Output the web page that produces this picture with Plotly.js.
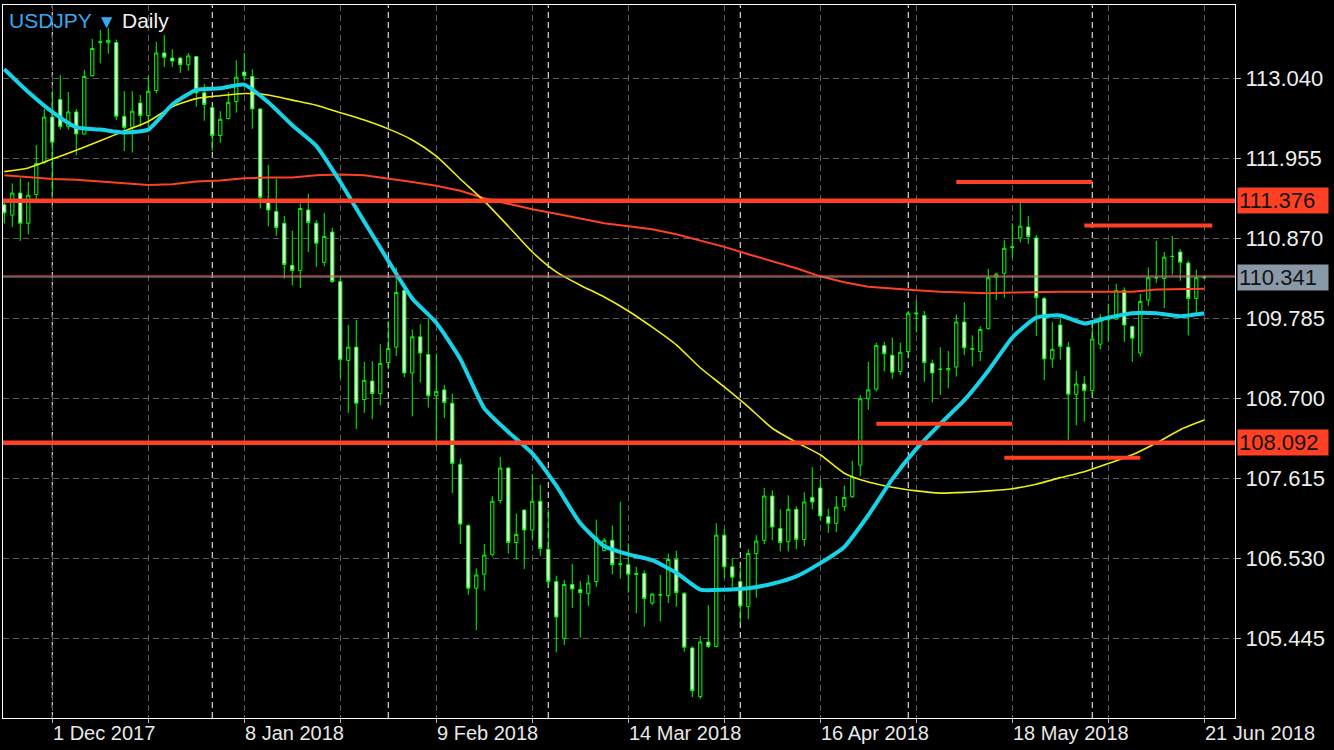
<!DOCTYPE html>
<html>
<head>
<meta charset="utf-8">
<script src="https://cdn.plot.ly/plotly-3.0.1.min.js"></script>
<style>html,body{margin:0;padding:0;background:#000;}#chart{width:1334px;height:750px;}</style>
</head>
<body>
<div id="chart"></div>
<script>
// ---- bars (daily, broker calendar) ----
const dates = [
'2017-11-23','2017-11-24','2017-11-27','2017-11-28','2017-11-29','2017-11-30',
'2017-12-01','2017-12-04','2017-12-05','2017-12-06','2017-12-07','2017-12-08',
'2017-12-11','2017-12-12','2017-12-13','2017-12-14','2017-12-15',
'2017-12-18','2017-12-19','2017-12-20','2017-12-21','2017-12-22',
'2017-12-26','2017-12-27','2017-12-28','2017-12-29',
'2018-01-02','2018-01-03','2018-01-04','2018-01-05',
'2018-01-08','2018-01-09','2018-01-10','2018-01-11','2018-01-12',
'2018-01-15','2018-01-16','2018-01-17','2018-01-18','2018-01-19',
'2018-01-22','2018-01-23','2018-01-24','2018-01-25','2018-01-26',
'2018-01-29','2018-01-30','2018-01-31',
'2018-02-01','2018-02-02',
'2018-02-05','2018-02-06','2018-02-07','2018-02-08','2018-02-09',
'2018-02-12','2018-02-13','2018-02-14','2018-02-15','2018-02-16',
'2018-02-19','2018-02-20','2018-02-21','2018-02-22','2018-02-23',
'2018-02-26','2018-02-27','2018-02-28',
'2018-03-01','2018-03-02',
'2018-03-05','2018-03-06','2018-03-07','2018-03-08','2018-03-09',
'2018-03-11','2018-03-12','2018-03-13','2018-03-14','2018-03-15','2018-03-16',
'2018-03-18','2018-03-19','2018-03-20','2018-03-21','2018-03-22','2018-03-23',
'2018-03-26','2018-03-27','2018-03-28','2018-03-29','2018-03-30',
'2018-04-02','2018-04-03','2018-04-04','2018-04-05','2018-04-06',
'2018-04-09','2018-04-10','2018-04-11','2018-04-12','2018-04-13',
'2018-04-16','2018-04-17','2018-04-18','2018-04-19','2018-04-20',
'2018-04-23','2018-04-24','2018-04-25','2018-04-26','2018-04-27',
'2018-04-30',
'2018-05-01','2018-05-02','2018-05-03','2018-05-04',
'2018-05-07','2018-05-08','2018-05-09','2018-05-10','2018-05-11',
'2018-05-14','2018-05-15','2018-05-16','2018-05-17','2018-05-18',
'2018-05-21','2018-05-22','2018-05-23','2018-05-24','2018-05-25',
'2018-05-28','2018-05-29','2018-05-30','2018-05-31',
'2018-06-01',
'2018-06-04','2018-06-05','2018-06-06','2018-06-07','2018-06-08',
'2018-06-11','2018-06-12','2018-06-13','2018-06-14','2018-06-15',
'2018-06-18','2018-06-19','2018-06-20','2018-06-21'
];
const futureDates = ['2018-06-22','2018-06-25','2018-06-26','2018-06-27'];

const open = [
111.32,111.18,111.48,111.07,111.46,111.89,
112.51,112.75,112.38,112.58,112.28,113.07,
113.52,113.52,113.52,112.52,112.37,
112.70,112.53,112.87,113.38,113.31,
113.31,113.22,113.33,112.84,
112.64,112.26,112.49,112.72,
113.12,113.06,112.62,111.39,111.23,
111.07,110.50,110.43,111.25,111.07,
110.54,110.95,110.28,109.21,109.39,
108.68,108.93,108.76,
109.18,109.39,
110.16,109.04,109.53,109.29,108.73,
108.81,108.63,107.80,106.97,106.12,
106.31,106.58,107.31,107.75,106.74,
107.18,106.91,107.30,
106.65,106.21,
105.44,106.17,106.10,106.05,106.21,
106.63,106.77,106.44,106.44,106.32,106.32,
105.92,106.03,106.02,106.51,106.05,105.31,
104.65,105.39,105.33,106.84,106.41,
106.21,105.87,106.59,106.77,107.37,
106.93,106.75,107.19,106.78,107.35,
107.48,107.09,107.00,107.23,107.36,
107.79,108.69,108.82,109.41,109.28,
109.06,
109.33,109.84,109.82,109.17,
109.09,109.08,109.12,109.73,109.36,
109.33,109.64,110.34,110.39,110.74,
110.87,111.02,110.87,110.05,109.23,
109.69,109.39,108.75,108.89,
108.80,
109.43,109.76,109.77,110.16,109.67,
109.31,110.03,110.33,110.32,110.62,
110.68,110.53,110.05,110.33
];
const high = [
111.35,111.61,111.68,111.63,112.13,112.62,
112.86,113.08,112.85,112.62,113.15,113.57,
113.69,113.72,113.56,112.86,112.86,
112.81,113.07,113.53,113.62,113.43,
113.32,113.38,113.34,112.96,
112.65,112.59,112.85,113.28,
113.38,113.16,112.63,111.86,111.67,
111.17,110.97,111.34,111.47,111.11,
111.21,111.01,110.32,109.69,109.76,
109.19,109.20,109.43,
109.74,110.47,
110.19,109.63,109.70,109.77,109.30,
108.88,108.76,107.88,106.99,106.39,
106.72,107.37,107.90,107.76,107.13,
107.19,107.67,107.52,
107.19,106.29,
106.23,106.45,106.22,106.30,107.05,
106.80,106.97,107.29,106.73,106.41,106.36,
106.05,106.30,106.59,106.63,106.07,105.33,
105.47,105.89,107.00,106.92,106.53,
106.43,106.65,106.84,107.48,107.45,
107.19,107.38,107.23,107.42,107.76,
107.60,107.20,107.37,107.51,107.85,
108.74,109.19,109.45,109.46,109.52,
109.45,
109.88,110.03,109.88,109.22,
109.39,109.34,109.83,110.00,109.55,
109.67,110.45,110.40,110.84,111.07,
111.36,111.17,110.91,110.07,109.73,
109.81,109.46,109.07,109.00,
109.69,
109.84,109.98,110.25,110.20,109.68,
110.11,110.47,110.83,110.68,110.90,
110.72,110.56,110.44,110.36
];
const low = [
111.07,111.02,110.83,110.92,111.34,111.88,
111.43,112.34,112.34,111.99,112.27,113.06,
113.24,113.37,112.47,112.05,112.03,
112.38,112.38,112.83,113.19,113.19,
113.11,113.14,112.65,112.46,
112.05,112.16,112.48,112.57,
113.01,112.35,111.27,111.03,110.90,
110.32,110.23,110.19,110.68,110.48,
110.49,110.26,108.97,108.50,108.28,
108.50,108.41,108.60,
109.09,109.27,
108.98,108.45,108.91,108.57,108.04,
108.43,107.41,106.72,106.03,105.55,
106.09,106.55,107.27,106.59,106.51,
106.38,106.78,106.56,
106.14,105.25,
105.35,105.85,105.45,105.88,106.14,
106.62,106.31,106.25,106.06,105.78,105.60,
105.89,105.67,105.92,105.87,105.26,104.64,
104.62,105.31,105.32,106.26,106.13,
105.65,105.70,105.99,106.72,106.77,
106.62,106.62,106.65,106.69,107.19,
107.04,106.87,106.88,107.17,107.35,
107.64,108.54,108.79,109.06,108.96,
109.01,
109.24,109.59,108.92,108.64,
108.74,108.83,108.99,109.28,109.13,
109.20,109.63,110.03,110.06,110.60,
110.81,110.79,109.54,108.94,109.11,
109.22,108.13,108.33,108.38,
108.72,
109.36,109.46,109.76,109.46,109.19,
109.26,109.95,110.26,109.92,110.37,
110.29,109.55,109.85,110.31
];
const close = [
111.21,111.48,111.07,111.45,111.88,112.51,
112.17,112.38,112.58,112.28,113.06,113.44,
113.53,113.55,112.52,112.37,112.59,
112.53,112.86,113.38,113.32,113.27,
113.22,113.34,112.84,112.68,
112.26,112.48,112.71,113.05,
113.07,112.62,111.42,111.25,111.01,
110.51,110.43,111.27,111.08,110.80,
110.89,110.28,109.22,109.39,108.63,
108.94,108.76,109.17,
109.37,110.13,
109.04,109.53,109.31,108.73,108.79,
108.64,107.81,106.99,106.12,106.30,
106.57,107.30,107.75,106.74,106.85,
106.91,107.30,106.66,
106.21,105.73,
106.17,106.11,106.06,106.19,106.81,
106.77,106.44,106.45,106.31,106.31,105.98,
106.04,106.03,106.51,106.06,105.32,104.73,
105.39,105.33,106.84,106.41,106.27,
105.88,106.59,106.76,107.37,106.95,
106.74,107.19,106.78,107.29,107.29,
107.10,107.00,107.22,107.35,107.63,
108.69,108.81,109.41,109.30,109.05,
109.32,
109.85,109.85,109.18,109.04,
109.09,109.10,109.73,109.38,109.37,
109.63,110.33,110.38,110.73,110.75,
111.03,110.89,110.06,109.23,109.36,
109.40,108.75,108.89,108.80,
109.50,
109.79,109.79,110.16,109.69,109.51,
110.01,110.33,110.33,110.61,110.62,
110.54,110.05,110.33,110.341
];

// ---- moving averages, read every third bar ----
const maDates = [
'2017-11-23','2017-11-28','2017-12-01','2017-12-06','2017-12-11','2017-12-14','2017-12-19','2017-12-22','2017-12-28',
'2018-01-03','2018-01-08','2018-01-11','2018-01-16','2018-01-19','2018-01-24','2018-01-29',
'2018-02-01','2018-02-06','2018-02-09','2018-02-14','2018-02-19','2018-02-22','2018-02-27',
'2018-03-02','2018-03-07','2018-03-11','2018-03-14','2018-03-18','2018-03-21','2018-03-26','2018-03-29',
'2018-04-03','2018-04-06','2018-04-11','2018-04-16','2018-04-19','2018-04-24','2018-04-27',
'2018-05-02','2018-05-07','2018-05-10','2018-05-15','2018-05-18','2018-05-23','2018-05-28','2018-05-31',
'2018-06-05','2018-06-08','2018-06-13','2018-06-18','2018-06-21'
];
const maCyan = [
113.16,112.85,112.58,112.37,112.34,112.30,112.34,112.68,112.88,
112.90,112.95,112.71,112.40,112.12,111.63,111.09,
110.56,110.05,109.72,109.23,108.56,108.24,107.95,
107.51,107.00,106.69,106.58,106.50,106.33,106.10,106.10,
106.12,106.18,106.28,106.46,106.68,107.11,107.60,
108.01,108.35,108.67,109.07,109.52,109.79,109.82,109.71,
109.79,109.85,109.85,109.81,109.85
];
const maYellow = [
111.77,111.82,111.94,112.06,112.19,112.32,112.45,112.65,112.76,
112.80,112.83,112.81,112.74,112.67,112.57,112.47,
112.35,112.20,111.98,111.67,111.37,111.03,110.68,
110.41,110.23,110.07,109.88,109.66,109.42,109.11,108.85,
108.58,108.29,108.10,107.93,107.68,107.56,107.49,
107.44,107.41,107.42,107.44,107.47,107.53,107.62,107.70,
107.81,107.93,108.09,108.27,108.40
];
const maRed = [
111.72,111.69,111.67,111.66,111.64,111.62,111.59,111.60,111.635,
111.65,111.68,111.69,111.69,111.72,111.73,111.72,
111.68,111.63,111.58,111.51,111.41,111.33,111.26,
111.20,111.13,111.07,111.03,110.99,110.92,110.84,110.75,
110.65,110.56,110.46,110.35,110.27,110.21,110.18,
110.16,110.14,110.13,110.12,110.13,110.14,110.14,110.14,
110.14,110.14,110.17,110.18,110.18
];

// ---- levels and drawn objects ----
const levelPrices = [111.376, 108.092];
const levelText = ['111.376', '108.092'];
const bidPrice = 110.341, bidText = '110.341';
const askPrice = 110.356;
const segPrices = [111.63, 111.04, 108.35, 107.89];
const segStart = ['2018-05-09','2018-05-31','2018-04-25','2018-05-17'];
const segEnd   = ['2018-06-01','2018-06-22','2018-05-18','2018-06-11'];
const monthStarts = ['2017-12-01','2018-01-02','2018-02-01','2018-03-01','2018-04-02','2018-05-01','2018-06-01'];

// ---- axes ----
const yTicks = [105.445,106.530,107.615,108.700,109.785,110.870,111.955,113.040];
const yTickText = ['105.445','106.530','107.615','108.700','109.785','110.870','111.955','113.040'];
const xGridDates = ['2017-12-01','2017-12-19','2018-01-08','2018-01-24','2018-02-09','2018-02-27','2018-03-14','2018-03-29','2018-04-16','2018-05-02','2018-05-18','2018-06-05','2018-06-21'];
const xLabelDates = ['2017-12-01','2018-01-08','2018-02-09','2018-03-14','2018-04-16','2018-05-18','2018-06-21'];
const xLabelText = ['1 Dec 2017','8 Jan 2018','9 Feb 2018','14 Mar 2018','16 Apr 2018','18 May 2018','21 Jun 2018'];

const cats = dates.concat(futureDates);
const ci = d => cats.indexOf(d);

const FONT = 'Liberation Sans, Arial, Helvetica, sans-serif';
const RED = '#ff4024';
const GREEN = '#00ff00';

const traces = [
  {
    type: 'candlestick', x: dates, open: open, high: high, low: low, close: close,
    increasing: {line: {color: GREEN, width: 1}, fillcolor: '#000000'},
    decreasing: {line: {color: GREEN, width: 1}, fillcolor: '#ffffff'},
    whiskerwidth: 0, hoverinfo: 'skip'
  },
  {type: 'scatter', mode: 'lines', x: maDates, y: maRed, line: {color: RED, width: 2}, hoverinfo: 'skip'},
  {type: 'scatter', mode: 'lines', x: maDates, y: maYellow, line: {color: '#eeee10', width: 1.6, shape: 'spline', smoothing: 0.6}, hoverinfo: 'skip'},
  {type: 'scatter', mode: 'lines', x: maDates, y: maCyan, line: {color: '#16d3e8', width: 4, shape: 'spline', smoothing: 0.5}, hoverinfo: 'skip'}
];

const shapes = [];
monthStarts.forEach(d => shapes.push({
  type: 'line', xref: 'x', yref: 'paper', x0: ci(d), x1: ci(d), y0: 0, y1: 1,
  line: {color: '#ffffff', width: 1, dash: '6px,4px'}, layer: 'between'
}));
shapes.push({type: 'line', xref: 'paper', yref: 'y', x0: 0, x1: 1, y0: askPrice, y1: askPrice,
  line: {color: RED, width: 1}, layer: 'above'});
shapes.push({type: 'line', xref: 'paper', yref: 'y', x0: 0, x1: 1, y0: bidPrice, y1: bidPrice,
  line: {color: '#8797a6', width: 1}, layer: 'above'});
levelPrices.forEach(p => shapes.push({
  type: 'line', xref: 'paper', yref: 'y', x0: 0, x1: 1, y0: p, y1: p,
  line: {color: RED, width: 4.5}, layer: 'above'
}));
segPrices.forEach((p, i) => shapes.push({
  type: 'line', xref: 'x', yref: 'y', x0: ci(segStart[i]), x1: ci(segEnd[i]), y0: p, y1: p,
  line: {color: RED, width: 4}, layer: 'above'
}));

const annotations = [];
annotations.push({
  xref: 'paper', yref: 'paper', x: 0, y: 1, xanchor: 'left', yanchor: 'top', xshift: 4, yshift: -2,
  showarrow: false, align: 'left',
  text: '<span style="color:#36a8f0">USDJPY</span> <span style="color:#36a8f0;font-size:19px">▼</span> Daily',
  font: {family: FONT, size: 21, color: '#f2f2f2'}
});
xLabelDates.forEach((d, i) => annotations.push({
  xref: 'x', yref: 'paper', x: ci(d), y: 0, xanchor: 'left', yanchor: 'top', yshift: -2, xshift: -1,
  showarrow: false, text: xLabelText[i], font: {family: FONT, size: 20, color: '#e8e8e8'}
}));
const tag = (p, txt, bg) => ({
  xref: 'paper', yref: 'y', x: 1, y: p, xanchor: 'left', yanchor: 'middle', xshift: 2,
  showarrow: false, text: txt, bgcolor: bg, borderpad: 1, width: 88, height: 23, align: 'left',
  font: {family: FONT, size: 22, color: '#141414'}
});
levelPrices.forEach((p, i) => annotations.push(tag(p, levelText[i], RED)));
annotations.push(tag(bidPrice, bidText, '#8a99a7'));

const layout = {
  width: 1334, height: 750,
  margin: {l: 3, r: 99, t: 5, b: 32, pad: 0},
  paper_bgcolor: '#000000', plot_bgcolor: '#000000',
  showlegend: false, boxgap: 0.42,
  font: {family: FONT, color: '#e8e8e8'},
  xaxis: {
    type: 'category', categoryorder: 'array', categoryarray: dates,
    range: [-0.16, 153.84], autorange: false,
    rangeslider: {visible: false},
    tickmode: 'array', tickvals: xGridDates, ticktext: xGridDates.map(() => ''),
    showgrid: true, gridcolor: '#5c5c5c', gridwidth: 1, griddash: '6px,4px',
    showline: true, linecolor: '#ffffff', linewidth: 1, mirror: true,
    ticks: 'outside', ticklen: 4, tickcolor: '#bbbbbb', zeroline: false, fixedrange: true
  },
  yaxis: {
    side: 'right', range: [104.360, 114.030], autorange: false,
    tickmode: 'array', tickvals: yTicks, ticktext: yTickText,
    tickfont: {family: FONT, size: 22, color: '#eeeeee'},
    showgrid: true, gridcolor: '#5c5c5c', gridwidth: 1, griddash: '6px,4px',
    showline: true, linecolor: '#ffffff', linewidth: 1, mirror: true,
    ticks: 'outside', ticklen: 5, tickcolor: '#bbbbbb', zeroline: false, fixedrange: true
  },
  shapes: shapes,
  annotations: annotations
};

Plotly.newPlot('chart', traces, layout, {displayModeBar: false, staticPlot: true});
</script>
</body>
</html>
